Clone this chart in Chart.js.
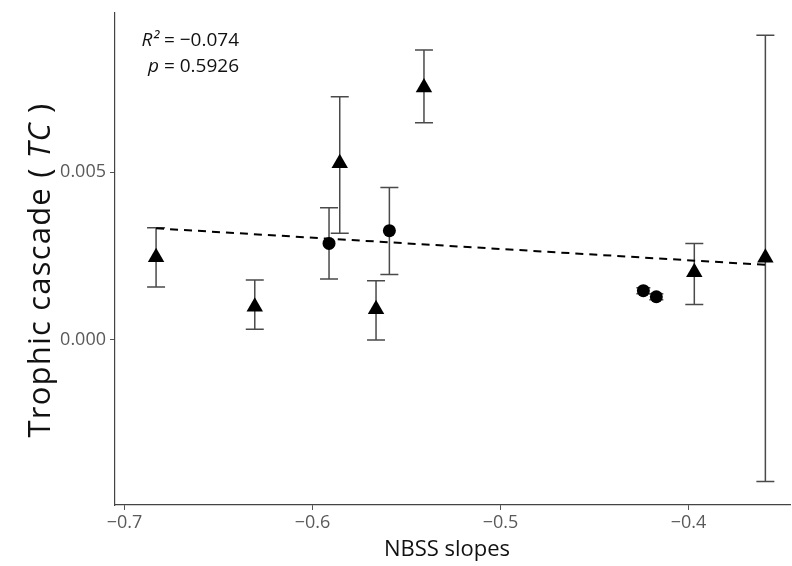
<!DOCTYPE html>
<html>
<head>
<meta charset="utf-8">
<script src="https://cdn.jsdelivr.net/npm/chart.js@4.4.1/dist/chart.umd.min.js"></script>
<style>
  html, body { margin: 0; padding: 0; background: #fff; }
  #wrap { width: 792px; height: 566px; }
</style>
</head>
<body>
<div id="wrap"><canvas id="tc_chart"></canvas></div>
<script>
// NBSS slopes vs trophic cascade (TC), mean with error bars

// triangles
const tri_x = [-0.6832, -0.6307, -0.5855, -0.5662, -0.5407, -0.3969, -0.3591];
const tri_y = [0.00247, 0.00099, 0.00527, 0.00092, 0.00753, 0.00202, 0.00245];
const tri_lo = [0.00158, 0.00032, 0.00318, 0.00000, 0.00648, 0.00106, -0.00422];
const tri_hi = [0.00335, 0.00179, 0.00725, 0.00177, 0.00865, 0.00288, 0.00909];

// circles
const circ_x = [-0.5912, -0.5591, -0.4240, -0.4171];
const circ_y = [0.00288, 0.00326, 0.00147, 0.00129];
const circ_lo = [0.00182, 0.00195, 0.00138, 0.00120];
const circ_hi = [0.00394, 0.00455, 0.00156, 0.00138];

// regression line
const fit_x = [-0.6832, -0.3591];
const fit_y = [0.00333, 0.00224];

const x_ticks = [-0.7, -0.6, -0.5, -0.4];
const y_ticks = [0.000, 0.005];

const r2_text = '= \u22120.074';
const p_text = '= 0.5926';

const FONT = '"Open Sans", "DejaVu Sans", sans-serif';

function to_points(xs, ys) {
  return xs.map((x, i) => ({ x: x, y: ys[i] }));
}

function minus(s) {
  return s.replace('-', '\u2212');
}

// error bars drawn through the scales
const error_bars = {
  id: 'error_bars',
  beforeDatasetsDraw(chart) {
    const ctx = chart.ctx;
    const xs = chart.scales.x;
    const ys = chart.scales.y;
    const draw = (xv, lo, hi, cap) => {
      xv.forEach((x, i) => {
        const px = xs.getPixelForValue(x);
        const p_lo = ys.getPixelForValue(lo[i]);
        const p_hi = ys.getPixelForValue(hi[i]);
        ctx.beginPath();
        ctx.moveTo(px, p_lo);
        ctx.lineTo(px, p_hi);
        ctx.moveTo(px - cap, p_lo);
        ctx.lineTo(px + cap, p_lo);
        ctx.moveTo(px - cap, p_hi);
        ctx.lineTo(px + cap, p_hi);
        ctx.stroke();
      });
    };
    ctx.save();
    ctx.strokeStyle = '#4a4a4a';
    ctx.lineWidth = 1.5;
    draw(tri_x, tri_lo, tri_hi, 9);
    draw(circ_x.slice(0, 2), circ_lo.slice(0, 2), circ_hi.slice(0, 2), 9);
    draw(circ_x.slice(2), circ_lo.slice(2), circ_hi.slice(2), 7);
    ctx.restore();
  }
};

// titles and the R2 / p note
const labels = {
  id: 'labels',
  afterDraw(chart) {
    const ctx = chart.ctx;
    ctx.save();
    ctx.fillStyle = '#111';

    // x title
    ctx.font = '22px ' + FONT;
    ctx.textAlign = 'center';
    ctx.textBaseline = 'middle';
    ctx.fillText('NBSS slopes', 447, 550);

    // y title with italic TC
    const size = 31;
    const norm = size + 'px ' + FONT;
    const ital = 'italic ' + size + 'px ' + FONT;
    const parts = [['Trophic cascade ( ', norm], ['TC', ital], [' )', norm]];
    ctx.letterSpacing = '1.2px';
    let total = 0;
    parts.forEach(p => { ctx.font = p[1]; total += ctx.measureText(p[0]).width; });
    ctx.translate(41, 270);
    ctx.rotate(-Math.PI / 2);
    ctx.textAlign = 'left';
    let cx = -total / 2;
    parts.forEach(p => {
      ctx.font = p[1];
      ctx.fillText(p[0], cx, 0);
      cx += ctx.measureText(p[0]).width;
    });
    ctx.setTransform(1, 0, 0, 1, 0, 0);
    ctx.letterSpacing = '0px';

    // note
    const note_right = 239;
    ctx.textBaseline = 'middle';
    ctx.font = '19px ' + FONT;
    const w1 = ctx.measureText(' ' + r2_text).width;
    const w2 = ctx.measureText(' ' + p_text).width;
    ctx.textAlign = 'right';
    ctx.fillText(' ' + r2_text, note_right, 41);
    ctx.fillText(' ' + p_text, note_right, 67);
    ctx.font = 'italic 19px ' + FONT;
    ctx.fillText('R\u00b2', note_right - w1, 41);
    ctx.fillText('p', note_right - w2, 67);
    ctx.restore();
  }
};

const ctx = document.getElementById('tc_chart').getContext('2d');

const tc_chart = new Chart(ctx, {
  type: 'scatter',
  data: {
    datasets: [
      {
        label: 'fit',
        type: 'line',
        data: to_points(fit_x, fit_y),
        borderColor: '#000',
        borderWidth: 2,
        borderDash: [8, 6],
        pointRadius: 0,
        fill: false,
        order: 3
      },
      {
        label: 'triangles',
        data: to_points(tri_x, tri_y),
        pointStyle: 'triangle',
        pointRadius: 9.5,
        backgroundColor: '#000',
        borderColor: '#000',
        borderWidth: 0,
        order: 1
      },
      {
        label: 'circles',
        data: to_points(circ_x, circ_y),
        pointStyle: 'circle',
        pointRadius: 6.5,
        backgroundColor: '#000',
        borderColor: '#000',
        borderWidth: 0,
        order: 2
      }
    ]
  },
  options: {
    responsive: true,
    maintainAspectRatio: false,
    animation: false,
    layout: { autoPadding: false, padding: { top: 13, right: 2, left: 0, bottom: 0 } },
    plugins: {
      legend: { display: false },
      tooltip: { enabled: false }
    },
    scales: {
      x: {
        type: 'linear',
        min: -0.70505,
        max: -0.346,
        afterBuildTicks: axis => { axis.ticks = x_ticks.map(v => ({ value: v })); },
        afterFit: axis => { axis.height = 61; axis.paddingLeft = 0; axis.paddingRight = 0; },
        grid: { display: true, drawOnChartArea: false, drawTicks: true, tickLength: 5, color: '#555' },
        border: { display: true, color: '#444', width: 1.2 },
        ticks: {
          padding: 2,
          color: '#5a5a5a',
          font: { family: FONT, size: 18 },
          callback: v => minus(v.toFixed(1))
        }
      },
      y: {
        type: 'linear',
        min: -0.00492,
        max: 0.00975,
        afterBuildTicks: axis => { axis.ticks = y_ticks.map(v => ({ value: v })); },
        afterFit: axis => { axis.width = 115; axis.paddingTop = 0; axis.paddingBottom = 0; },
        grid: { display: true, drawOnChartArea: false, drawTicks: true, tickLength: 5, color: '#555' },
        border: { display: true, color: '#444', width: 1.2 },
        ticks: {
          padding: 4,
          color: '#5a5a5a',
          font: { family: FONT, size: 18 },
          callback: v => minus(v.toFixed(3))
        }
      }
    }
  },
  plugins: [error_bars, labels]
});
</script>
</body>
</html>
